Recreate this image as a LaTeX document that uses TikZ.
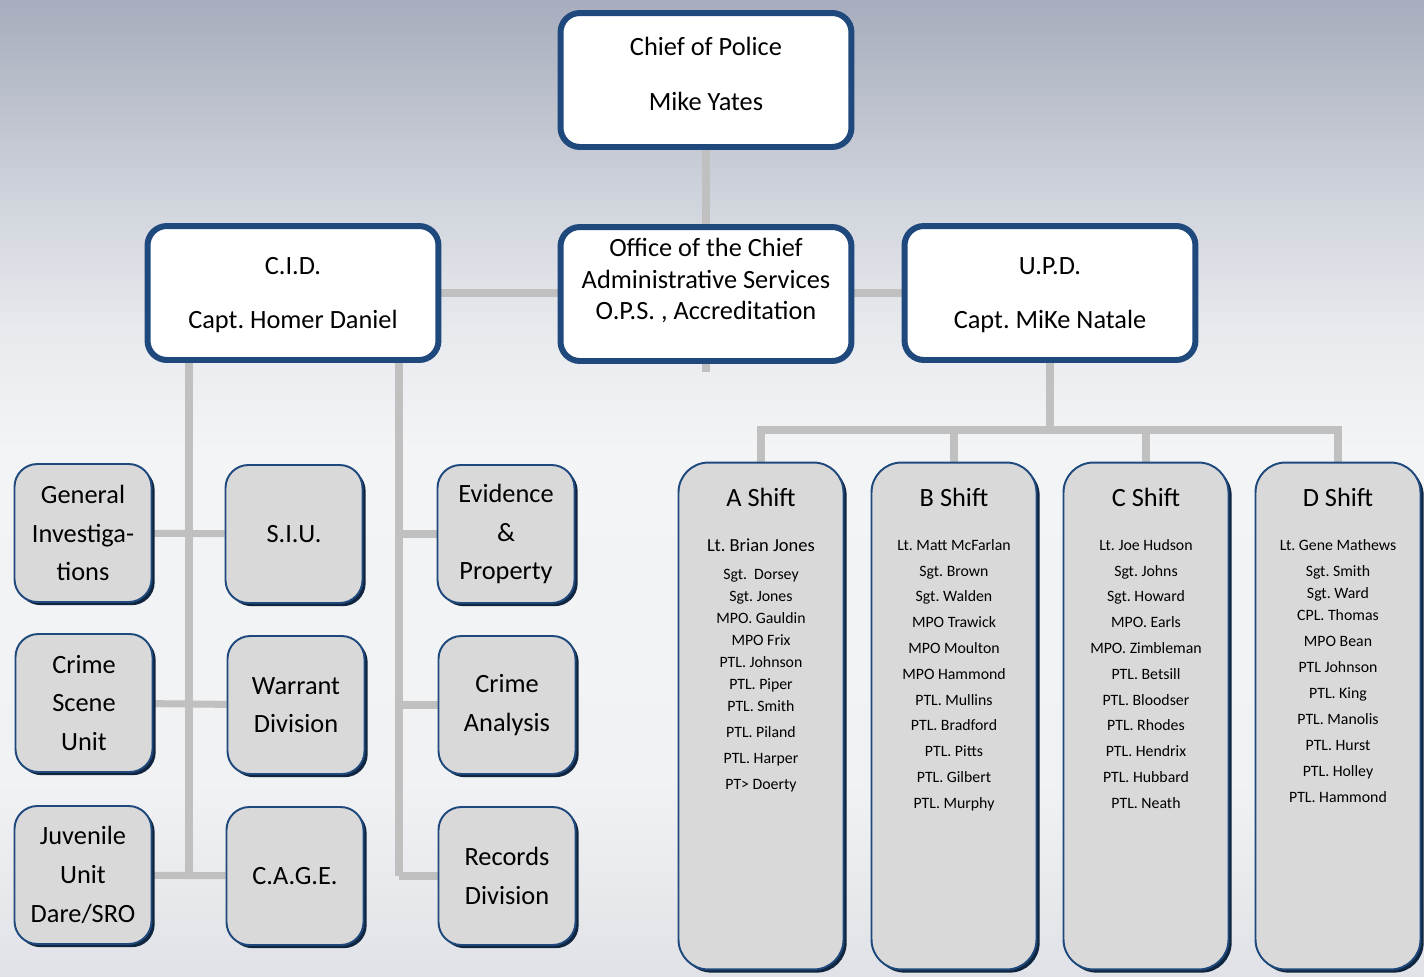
\documentclass[tikz,border=0pt]{standalone}
\usepackage{fontspec}
\setmainfont{Carlito}
\frenchspacing
\usetikzlibrary{positioning, shadows, backgrounds}

\definecolor{boxblue}{HTML}{1F497D}
\definecolor{shadeblue}{HTML}{10253F}
\definecolor{unitgrey}{HTML}{D9D9D9}
\definecolor{linegrey}{HTML}{C0C0C0}
\definecolor{bgtop}{HTML}{A7ADBD}
\definecolor{bgupper}{HTML}{CFD3DB}
\definecolor{bghigh}{HTML}{E8EAEE}
\definecolor{bgmid}{HTML}{F3F4F6}
\definecolor{bglow}{HTML}{F1F2F4}
\definecolor{bgbot}{HTML}{E0E2E7}

\pgfdeclareverticalshading{pagebg}{100bp}{color(0bp)=(bgbot); color(25bp)=(bgbot);
  color(35bp)=(bglow); color(52bp)=(bgmid); color(58bp)=(bghigh); color(65bp)=(bgupper);
  color(75bp)=(bgtop); color(100bp)=(bgtop)}

\tikzset{
  head/.style={draw=boxblue, line width=3.4pt, fill=white, rounded corners=11pt,
    minimum width=5.82cm, minimum height=2.68cm, align=center,
    font=\fontsize{15}{18}\selectfont},
  unit/.style={draw=boxblue, line width=1.1pt, fill=unitgrey, rounded corners=13pt,
    minimum width=2.74cm, minimum height=2.76cm, align=center,
    font=\fontsize{15}{22}\selectfont,
    drop shadow={fill=shadeblue, opacity=1, shadow xshift=1.8pt, shadow yshift=-1.8pt}},
  shiftbox/.style={unit, minimum width=3.3cm, minimum height=10.14cm, rounded corners=17pt},
  roster/.style={anchor=north, align=center, font=\fontsize{9}{12.5}\selectfont},
  link/.style={draw=linegrey, line width=4pt}
}

\begin{document}
\begin{tikzpicture}[x=0.02cm, y=-0.02cm]
  \useasboundingbox (0,0) rectangle (1424,977);
  \begin{scope}[on background layer]
    \shade[shading=pagebg] (0,0) rectangle (1424,977);
  \end{scope}

  % command staff
  \node (chief) [head, text depth=7pt] at (706,80) {Chief of Police\\[13pt]Mike Yates};
  \node (office) [head, text depth=17pt] at (706,294) {Office of the Chief\\Administrative Services\\O.P.S. , Accreditation};
  \node (cid) [head, text depth=0pt] at (293,293) {C.I.D.\\[13pt]Capt. Homer Daniel};
  \node (upd) [head, text depth=0pt] at (1050,293) {U.P.D.\\[13pt]Capt. MiKe Natale};

  % C.I.D. units
  \node (gi) [unit] at (83,533) {General\\Investiga-\\tions};
  \node (siu) [unit] at (294,534) {S.I.U.};
  \node (csu) [unit] at (84,703) {Crime\\Scene\\Unit};
  \node (warrant) [unit] at (296,705) {Warrant\\Division};
  \node (juv) [unit] at (83,875) {Juvenile\\Unit\\Dare/SRO};
  \node (cage) [unit] at (295,876) {C.A.G.E.};
  \node (evid) [unit] at (506,534) {Evidence\\\&\\Property};
  \node (crimean) [unit] at (507,705) {Crime\\Analysis};
  \node (records) [unit] at (507,876) {Records\\Division};

  % U.P.D. shifts
  \foreach \n/\x/\t in {ashift/761/A, bshift/954/B, cshift/1146/C, dshift/1338/D}{
    \node (\n) [shiftbox] at (\x,716) {};
    \node (\n title) [font=\fontsize{15}{18}\selectfont] at (\x,497) {\t\ Shift};}

  \node (alist) [roster] at (761,533) {{\fontsize{10.5}{12.5}\selectfont Lt. Brian Jones}\\[3.4pt]
    Sgt.\ \ Dorsey\\Sgt. Jones\\MPO. Gauldin\\MPO Frix\\PTL. Johnson\\PTL. Piper\\PTL. Smith\\[2.3pt]
    PTL. Piland\\[2.3pt]PTL. Harper\\[2.3pt]PT> Doerty};
  \node (blist) [roster, font=\fontsize{9}{14.7}\selectfont] at (954,533) {Lt. Matt McFarlan\\Sgt. Brown\\
    Sgt. Walden\\MPO Trawick\\MPO Moulton\\MPO Hammond\\PTL. Mullins\\PTL. Bradford\\PTL. Pitts\\
    PTL. Gilbert\\PTL. Murphy};
  \node (clist) [roster, font=\fontsize{9}{14.7}\selectfont] at (1146,533) {Lt. Joe Hudson\\Sgt. Johns\\
    Sgt. Howard\\MPO. Earls\\MPO. Zimbleman\\PTL. Betsill\\PTL. Bloodser\\PTL. Rhodes\\PTL. Hendrix\\
    PTL. Hubbard\\PTL. Neath};
  \node (dlist) [roster] at (1338,533) {Lt. Gene Mathews\\[2.3pt]Sgt. Smith\\Sgt. Ward\\CPL. Thomas\\[2.3pt]
    MPO Bean\\[2.3pt]PTL Johnson\\[2.3pt]PTL. King\\[2.3pt]PTL. Manolis\\[2.3pt]PTL. Hurst\\[2.3pt]
    PTL. Holley\\[2.3pt]PTL. Hammond};

  \coordinate (ltrunk) at (189,0);
  \coordinate (rtrunk) at (399,0);
  \coordinate (bus) at (0,430);

  \begin{scope}[on background layer]
    \draw[link, shorten >=-0.16cm] (chief.south) -- (office.south);
    \draw[link] (cid) -- (upd);
    \draw[link] (cid.south -| ltrunk) -- (ltrunk |- juv);
    \draw[link] (gi) -- (siu);
    \draw[link] (csu) -- (warrant);
    \draw[link] (juv) -- (cage);
    \draw[link] (cid.south -| rtrunk) -- (rtrunk |- records);
    \foreach \u in {evid, crimean, records}
      \draw[link] (rtrunk |- \u) -- (\u);
    \draw[link] (upd.south) -- (upd.south |- bus);
    \draw[link] (ashift.north) |- (dshift.north |- bus) -- (dshift.north);
    \foreach \s in {bshift, cshift}
      \draw[link] (\s.north |- bus) -- (\s.north);
  \end{scope}
\end{tikzpicture}
\end{document}
